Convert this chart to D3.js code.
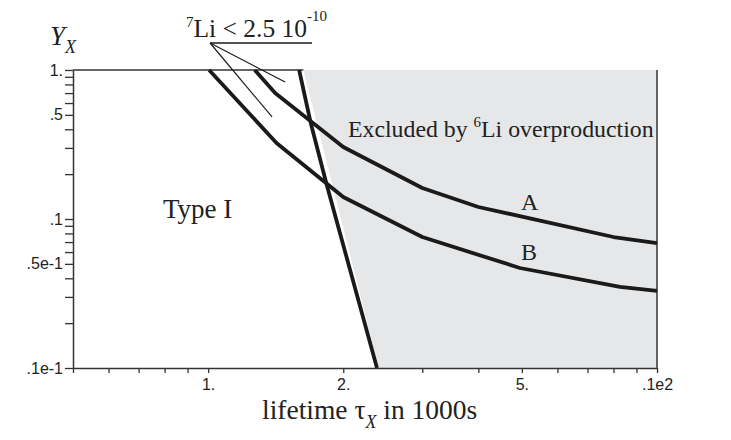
<!DOCTYPE html>
<html><head><meta charset="utf-8">
<script src="https://cdn.jsdelivr.net/npm/d3@7/dist/d3.min.js"></script>
<style>
body{margin:0;background:#fff;}
svg text{fill:#222;}
.tick text{font-family:"Liberation Sans",Arial,sans-serif;font-size:16px;}
.serif{font-family:"Liberation Serif","Times New Roman",serif;}
</style></head>
<body>
<svg id="c" width="731" height="440"></svg>
<script>
// ---- data ----
const xTicks = [0.5,0.6,0.7,0.8,0.9,1,2,3,4,5,6,7,8,9,10];
const xTickLabels = {1:"1.",2:"2.",5:"5.",10:".1e2"};
const yTicks = [1,0.9,0.8,0.7,0.6,0.5,0.4,0.3,0.2,0.1,0.09,0.08,0.07,0.06,0.05,0.04,0.03,0.02,0.01];
const yTickLabels = {1:"1.",0.5:".5",0.1:".1",0.05:".5e-1",0.01:".1e-1"};
// curve A
const aX = [1.27,1.41,2.0,3.0,4.0,8.0,10];
const aY = [1.0,0.70,0.304,0.1615,0.1204,0.0757,0.069];
// curve B
const bX = [1.005,1.42,2.0,3.0,4.95,8.27,10];
const bY = [1.0,0.324,0.1405,0.0757,0.0469,0.035,0.0329];
// 6Li exclusion line
const liX = [1.595,1.693,1.838,2.378];
const liY = [1.0,0.44,0.169,0.01];
// grey excluded-region left edge
const exX = [1.63,2.40];
const exY = [1.0,0.01];
// 7Li annotation pointers (start, two ends)
const ptrStart = [1.01,1.518];
const ptrEnds = [[1.484,0.831],[1.388,0.484]];

// ---- layout ----
const svg = d3.select("#c");
const x = d3.scaleLog().domain([0.5,10]).range([73,657]);
const y = d3.scaleLog().domain([0.01,1]).range([368,70]);
const ink = "#1a1a1a";

// grey region
const greyPts = [[exX[0],exY[0]],[exX[1],exY[1]],[10,0.01],[10,1]];
svg.append("path")
  .attr("d", d3.line().x(d=>x(d[0])).y(d=>y(d[1]))(greyPts)+"Z")
  .attr("fill","#e6e7e9");

// frame lines: top (white part) and right
svg.append("line").attr("x1",x(0.5)).attr("x2",x(exX[0])).attr("y1",y(1)).attr("y2",y(1))
  .attr("stroke","#333").attr("stroke-width",1.5);
svg.append("line").attr("x1",x(10)).attr("x2",x(10)).attr("y1",y(1)).attr("y2",y(0.01))
  .attr("stroke","#333").attr("stroke-width",1.5);

// axes
const xAxis = d3.axisBottom(x).tickValues(xTicks).tickSizeInner(5).tickSizeOuter(0)
  .tickFormat(d=>xTickLabels[d]||"");
const gx = svg.append("g").attr("transform",`translate(0,${y(0.01)})`).call(xAxis);
gx.selectAll("text").attr("dy","0").attr("y",22);
const yAxis = d3.axisLeft(y).tickValues(yTicks).tickSizeInner(8).tickSizeOuter(0)
  .tickFormat(d=>yTickLabels[d]||"");
const gy = svg.append("g").attr("transform",`translate(${x(0.5)},0)`).call(yAxis);
gy.selectAll("text").attr("x",-10);
[gx,gy].forEach(g=>{
  g.select(".domain").attr("stroke","#333").attr("stroke-width",1.5);
  g.selectAll(".tick line").attr("stroke","#333").attr("stroke-width",1.3);
  g.selectAll(".tick text").style("fill","#222");
});

// curves
const line = d3.line().x(d=>x(d[0])).y(d=>y(d[1]));
function curve(xs,ys){
  svg.append("path").attr("d",line(xs.map((v,i)=>[v,ys[i]])))
    .attr("fill","none").attr("stroke",ink).attr("stroke-width",3.8)
    .attr("stroke-linejoin","round");
}
curve(aX,aY); curve(bX,bY); curve(liX,liY);

// annotation pointers
ptrEnds.forEach(e=>{
  svg.append("line").attr("x1",x(ptrStart[0])).attr("y1",y(ptrStart[1]))
    .attr("x2",x(e[0])).attr("y2",y(e[1])).attr("stroke",ink).attr("stroke-width",1.2);
});
svg.append("line").attr("x1",x(ptrStart[0])).attr("y1",y(ptrStart[1]))
  .attr("x2",312).attr("y2",y(ptrStart[1])).attr("stroke",ink).attr("stroke-width",1.3);

// texts
const t1 = svg.append("text").attr("class","serif").attr("x",186).attr("y",37).style("font-size","25.5px");
t1.append("tspan").text("7").style("font-size","15px").attr("dy","-10");
t1.append("tspan").text("Li < 2.5 10").attr("dy","10");
t1.append("tspan").text("-10").style("font-size","15px").attr("dy","-16");

const t2 = svg.append("text").attr("class","serif").attr("x",348).attr("y",137).style("font-size","23.8px");
t2.append("tspan").text("Excluded by ");
t2.append("tspan").text("6").style("font-size","15px").attr("dy","-10");
t2.append("tspan").text("Li overproduction").attr("dy","10");

svg.append("text").attr("class","serif").attr("x",163).attr("y",218).style("font-size","27px").text("Type I");
svg.append("text").attr("class","serif").attr("x",521).attr("y",210).style("font-size","24px").text("A");
svg.append("text").attr("class","serif").attr("x",521).attr("y",260).style("font-size","24px").text("B");

const ty = svg.append("text").attr("class","serif").attr("x",50).attr("y",45).style("font-size","27px").style("font-style","italic");
ty.append("tspan").text("Y");
ty.append("tspan").text("X").style("font-size","18px").attr("dy","8");

const tx = svg.append("text").attr("class","serif").attr("x",262).attr("y",419).style("font-size","27.5px");
tx.append("tspan").text("lifetime τ");
tx.append("tspan").text("X").style("font-size","18px").style("font-style","italic").attr("dy","9");
tx.append("tspan").text(" in 1000s").attr("dy","-9");
</script>
</body></html>
